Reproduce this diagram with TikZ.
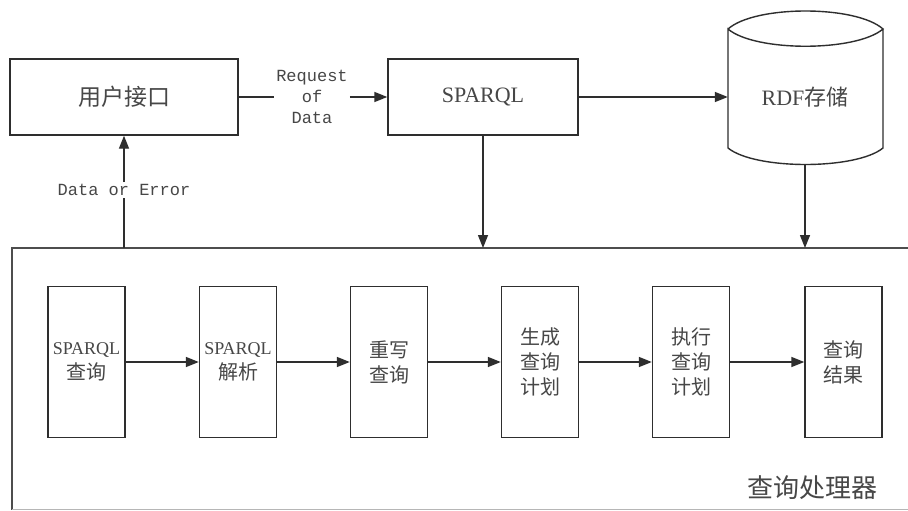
\documentclass[tikz,border=0pt]{standalone}
\usepackage{fontspec}
\setmainfont{Liberation Serif}
\newfontfamily\cjk{Noto Sans CJK SC}
\newfontfamily\monofam{Liberation Mono}
\usetikzlibrary{arrows.meta}
\definecolor{linecol}{HTML}{2E2E2E}
\definecolor{txtcol}{HTML}{474747}
\tikzset{
  line/.style={draw=linecol, line width=1.4pt},
  arr/.style={line, -{Triangle[length=13pt,width=10pt]}},
  topbox/.style={line, rectangle, minimum height=76pt, text=txtcol, inner sep=0pt},
  stagebox/.style={line, rectangle, minimum width=77pt, minimum height=151pt,
    text=txtcol, inner sep=0pt, align=center, font=\fontsize{18}{25}\selectfont},
  cjkstage/.style={stagebox, font=\cjk\fontsize{20}{25}\selectfont},
  lbl/.style={text=txtcol, font=\monofam\fontsize{17}{21}\selectfont, align=center, inner sep=2pt}
}
\begin{document}
\begin{tikzpicture}[x=1pt,y=-1pt]
  \clip (0,0) rectangle (908,511);
  \fill[white] (0,0) rectangle (908,511);

  % query processor frame (runs off the right edge)
  \node[draw=none, minimum width=920pt, minimum height=262pt, inner sep=0pt, anchor=north west] (proc) at (12,248) {};
  \draw[line, draw=linecol!85] (930,248) -- (12,248) -- (12,509.5);
  \draw[draw=linecol!35, line width=1pt] (12,509.5) -- (930,509.5);
  \node[text=txtcol, font=\cjk\fontsize{26}{26}\selectfont, anchor=center] (proclbl) at (812,488) {查询处理器};

  % top row
  \node[topbox, minimum width=228pt, font=\cjk\fontsize{23}{23}\selectfont] (ui) at (124,97) {用户接口};
  \node[topbox, minimum width=190pt, font=\fontsize{22}{22}\selectfont] (sp) at (483,97) {SPARQL};

  % RDF store drawn as a cylinder
  \node[draw=none, minimum width=154pt, minimum height=136pt, inner sep=0pt, text=txtcol,
        font=\fontsize{22}{22}\selectfont] (rdf) at (805,97) {RDF{\cjk 存储}};
  \draw[line] (728,29) .. controls (755,5) and (856,5) .. (883,29)
        .. controls (856,52) and (755,52) .. (728,29) -- (728,148)
        .. controls (755,170) and (856,170) .. (883,148) -- (883,29);

  % request from the user interface
  \node[lbl] (req) at (312,97) {Request\\of\\Data};
  \draw[line] (ui.east) -- (req.west);
  \draw[arr] (req.east) -- (sp.west);
  \draw[arr] (sp.east) -- (rdf.west);

  % links down into the processor
  \draw[arr] (sp.south) -- (sp.south |- proc.north);
  \draw[arr] (rdf.south) -- (rdf.south |- proc.north);

  % result back to the user interface
  \node[lbl, fill=white] (doe) at (124,190) {Data or Error};
  \draw[line] (doe.south |- proc.north) -- (doe.south);
  \draw[arr] (doe.north) -- (ui.south);

  % processing stages
  \node[stagebox] (s1) at (86.5,362) {SPARQL\\{\cjk\fontsize{20}{25}\selectfont 查询}};
  \node[stagebox] (s2) at (238,362) {SPARQL\\{\cjk\fontsize{20}{25}\selectfont 解析}};
  \node[cjkstage] (s3) at (389,362) {重写\\查询};
  \node[cjkstage] (s4) at (540,362) {生成\\查询\\计划};
  \node[cjkstage] (s5) at (691,362) {执行\\查询\\计划};
  \node[cjkstage] (s6) at (843.5,362) {查询\\结果};

  \draw[arr] (s1) -- (s2);
  \draw[arr] (s2) -- (s3);
  \draw[arr] (s3) -- (s4);
  \draw[arr] (s4) -- (s5);
  \draw[arr] (s5) -- (s6);
\end{tikzpicture}
\end{document}
